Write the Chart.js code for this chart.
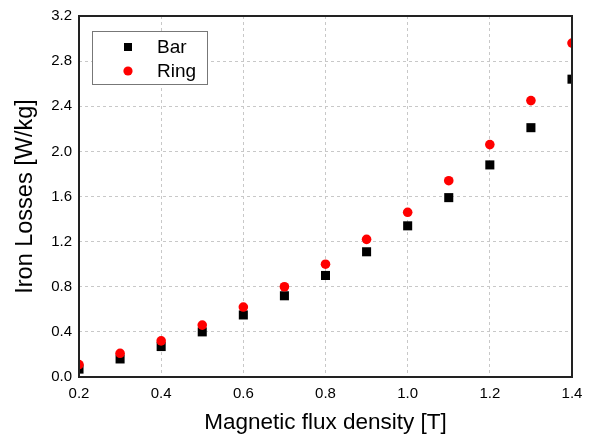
<!DOCTYPE html>
<html lang="en">
<head>
  <meta charset="UTF-8" />
  <title>Iron Losses</title>
  <script src="https://cdn.jsdelivr.net/npm/chart.js"></script>
  <style>
    body { margin: 0; background: #fff; }
  </style>
</head>
<body>
  <canvas id="grafico" width="591" height="436"></canvas>
<script>
  // dados
  var fluxo = [0.2, 0.3, 0.4, 0.5, 0.6, 0.7, 0.8, 0.9, 1.0, 1.1, 1.2, 1.3, 1.4];
  var perdas_bar = [0.07, 0.16, 0.27, 0.40, 0.55, 0.72, 0.90, 1.11, 1.34, 1.59, 1.88, 2.21, 2.64];
  var perdas_ring = [0.11, 0.21, 0.32, 0.46, 0.62, 0.80, 1.00, 1.22, 1.46, 1.74, 2.06, 2.45, 2.96];
  var y_ticks = [0, 0.4, 0.8, 1.2, 1.6, 2.0, 2.4, 2.8, 3.2];
  var x_ticks = [0.2, 0.4, 0.6, 0.8, 1.0, 1.2, 1.4];

  var fonte = "'Liberation Sans', Arial, sans-serif";

  function pontos(valores) {
    return fluxo.map(function (x, i) { return { x: x, y: valores[i] }; });
  }

  // legenda desenhada dentro da area do grafico
  var legenda_interna = {
    id: "legenda_interna",
    afterDraw: function (chart) {
      var ctx = chart.ctx;
      var a = chart.chartArea;
      var bx = a.left + 13, by = a.top + 15, bw = 115, bh = 53;
      ctx.save();
      ctx.fillStyle = "#fff";
      ctx.fillRect(bx, by, bw, bh);
      ctx.strokeStyle = "#777";
      ctx.lineWidth = 1;
      ctx.setLineDash([]);
      ctx.strokeRect(bx + 0.5, by + 0.5, bw, bh);
      ctx.font = "19px " + fonte;
      ctx.textBaseline = "middle";
      chart.data.datasets.forEach(function (ds, i) {
        var cy = by + 16 + i * 24;
        var cx = bx + 36;
        ctx.fillStyle = ds.backgroundColor;
        if (ds.pointStyle === "rect") {
          ctx.fillRect(cx - 4, cy - 4, 8, 8);
        } else {
          ctx.beginPath();
          ctx.arc(cx, cy, 4.6, 0, Math.PI * 2);
          ctx.fill();
        }
        ctx.fillStyle = "#000";
        ctx.fillText(ds.label, bx + 65, cy + 1);
      });
      ctx.restore();
    },
  };

  // moldura preta em volta da area do grafico
  var moldura = {
    id: "moldura",
    afterDatasetsDraw: function (chart) {
      var ctx = chart.ctx, a = chart.chartArea;
      ctx.save();
      ctx.setLineDash([]);
      ctx.strokeStyle = "#222";
      ctx.lineWidth = 2;
      ctx.strokeRect(a.left, a.top, a.right - a.left, a.bottom - a.top);
      ctx.restore();
    },
  };

  const grafico = document.getElementById("grafico");
  new Chart(grafico, {
    type: "scatter",
    data: {
      datasets: [
        {
          label: "Bar",
          data: pontos(perdas_bar),
          pointStyle: "rect",
          pointRadius: 6.4,
          backgroundColor: "#000",
          borderColor: "#000",
          borderWidth: 0,
          clip: 0,
          order: 1,
        },
        {
          label: "Ring",
          data: pontos(perdas_ring),
          pointStyle: "circle",
          pointRadius: 4.8,
          backgroundColor: "#ff0000",
          borderColor: "#ff0000",
          borderWidth: 0,
          clip: 0,
          order: 0,
        },
      ],
    },
    options: {
      responsive: false,
      animation: false,
      layout: { padding: { top: 15, right: 19, left: 0, bottom: 0 } },
      plugins: {
        legend: { display: false },
        tooltip: { enabled: false },
      },
      scales: {
        x: {
          type: "linear",
          min: 0.2,
          max: 1.4,
          afterBuildTicks: function (s) { s.ticks = x_ticks.map(function (v) { return { value: v }; }); },
          afterFit: function (s) { s.height = 59; },
          grid: { color: "#c8c8c8", lineWidth: 1, drawTicks: false },
          border: { display: false, dash: [3, 3] },
          ticks: {
            padding: 8,
            color: "#000",
            font: { family: fonte, size: 15 },
            callback: function (v) { return v.toFixed(1); },
          },
          title: {
            display: true,
            text: "Magnetic flux density [T]",
            color: "#000",
            font: { family: fonte, size: 22.5 },
            padding: { top: 5, bottom: 0 },
          },
        },
        y: {
          type: "linear",
          min: 0,
          max: 3.2,
          afterBuildTicks: function (s) { s.ticks = y_ticks.map(function (v) { return { value: v }; }); },
          afterFit: function (s) { s.width = 79; },
          grid: { color: "#c8c8c8", lineWidth: 1, drawTicks: false },
          border: { display: false, dash: [3, 3] },
          ticks: {
            padding: 7,
            color: "#000",
            font: { family: fonte, size: 15 },
            callback: function (v) { return v.toFixed(1); },
          },
          title: {
            display: true,
            text: "Iron Losses [W/kg]",
            color: "#000",
            font: { family: fonte, size: 23.5 },
            padding: { top: 11, bottom: 0 },
          },
        },
      },
    },
    plugins: [moldura, legenda_interna],
  });
</script>
</body>
</html>
